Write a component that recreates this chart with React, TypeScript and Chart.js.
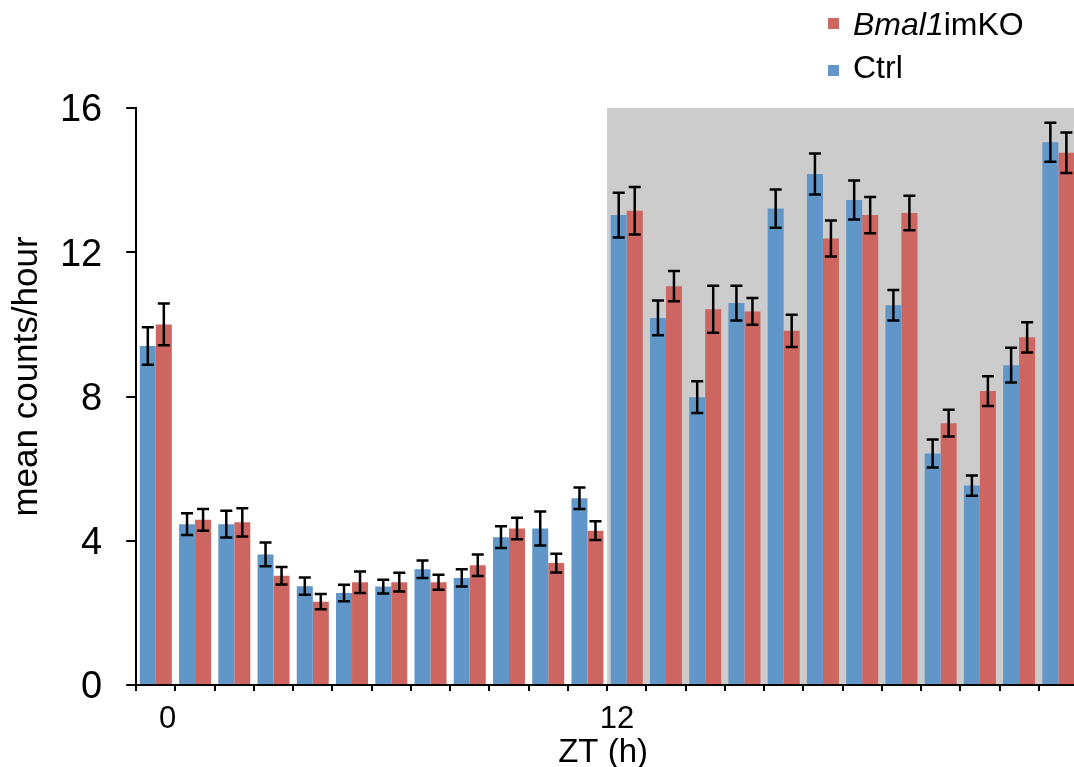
import React, { useEffect, useRef } from 'react';
import { Chart, registerables } from 'chart.js';

Chart.register(...registerables);

const FONT = "'Liberation Sans', Arial, Helvetica, sans-serif";

const hours = ['0', '1', '2', '3', '4', '5', '6', '7', '8', '9', '10', '11', '12', '13', '14', '15', '16', '17', '18', '19', '20', '21', '22', '23'];
const ctrlMean = [9.40, 4.46, 4.46, 3.62, 2.74, 2.55, 2.73, 3.21, 2.97, 4.10, 4.34, 5.18, 13.03, 10.18, 7.98, 10.59, 13.21, 14.17, 13.45, 10.53, 6.42, 5.53, 8.87, 15.05];
const ctrlErr = [0.52, 0.30, 0.37, 0.33, 0.24, 0.23, 0.19, 0.24, 0.24, 0.30, 0.47, 0.30, 0.62, 0.48, 0.44, 0.48, 0.53, 0.57, 0.54, 0.42, 0.39, 0.28, 0.48, 0.54];
const koMean = [10.00, 4.58, 4.51, 3.03, 2.31, 2.85, 2.85, 2.85, 3.32, 4.34, 3.38, 4.28, 13.15, 11.06, 10.42, 10.36, 9.82, 12.38, 13.03, 13.09, 7.26, 8.15, 9.64, 14.76];
const koErr = [0.58, 0.30, 0.39, 0.24, 0.21, 0.30, 0.26, 0.21, 0.30, 0.30, 0.26, 0.26, 0.66, 0.42, 0.65, 0.37, 0.45, 0.50, 0.50, 0.48, 0.37, 0.41, 0.42, 0.56];
const yTicks = [0, 4, 8, 12, 16];
const xShownLabels = ['0', '12'];
const darkStartHour = 12;

const BLUE = '#6196c9';
const RED = '#cd6660';
const GREY = '#cccccc';

const errorsByDataset = [ctrlErr, koErr];

const shadePlugin = {
  id: 'shade',
  beforeDraw(chart: any) {
    const { ctx, chartArea, scales } = chart;
    const x = scales.x, y = scales.y;
    const half = (x.getPixelForValue(1) - x.getPixelForValue(0)) / 2;
    const left = x.getPixelForValue(darkStartHour) - half;
    const top = y.getPixelForValue(yTicks[yTicks.length - 1]);
    const bottom = y.getPixelForValue(0) - 1;
    ctx.save();
    ctx.fillStyle = GREY;
    ctx.fillRect(left, top, chartArea.right - left + 20, bottom - top);
    ctx.restore();
  },
};

const errorBarPlugin = {
  id: 'errbars',
  afterDatasetsDraw(chart: any) {
    const { ctx, scales } = chart;
    const y = scales.y;
    ctx.save();
    ctx.strokeStyle = '#000';
    ctx.lineWidth = 2.5;
    chart.data.datasets.forEach((ds: any, di: number) => {
      const meta = chart.getDatasetMeta(di);
      const errs = errorsByDataset[di];
      meta.data.forEach((bar: any, i: number) => {
        const v = ds.data[i];
        const e = errs[i];
        const yt = y.getPixelForValue(v + e);
        const yb = y.getPixelForValue(v - e);
        const cx = bar.x;
        ctx.beginPath();
        ctx.moveTo(cx, yt);
        ctx.lineTo(cx, yb);
        ctx.moveTo(cx - 6, yt);
        ctx.lineTo(cx + 6, yt);
        ctx.moveTo(cx - 6, yb);
        ctx.lineTo(cx + 6, yb);
        ctx.stroke();
      });
    });
    ctx.restore();
  },
};

const textPlugin = {
  id: 'texts',
  afterDraw(chart: any) {
    const { ctx, chartArea, scales } = chart;
    const x = scales.x;
    const half = (x.getPixelForValue(1) - x.getPixelForValue(0)) / 2;
    ctx.save();
    ctx.fillStyle = '#000';
    ctx.textAlign = 'center';
    ctx.textBaseline = 'alphabetic';
    // x tick labels
    ctx.font = `31px ${FONT}`;
    ctx.fillText(xShownLabels[0], x.getPixelForValue(0) + half / 2 + 2, chartArea.bottom + 43);
    ctx.fillText(xShownLabels[1], x.getPixelForValue(12) - half / 2, chartArea.bottom + 43);
    // x title
    ctx.font = `33px ${FONT}`;
    ctx.fillText('ZT (h)', (chartArea.left + chartArea.right) / 2 - 4, chartArea.bottom + 77);
    // y title
    ctx.translate(37, (chartArea.top + chartArea.bottom) / 2 - 20);
    ctx.rotate(-Math.PI / 2);
    ctx.font = `35px ${FONT}`;
    ctx.fillText('mean counts/hour', 0, 0);
    ctx.restore();
  },
};

export default function App() {
  const ref = useRef<HTMLCanvasElement | null>(null);

  useEffect(() => {
    if (!ref.current) return;
    const chart = new Chart(ref.current, {
      type: 'bar',
      data: {
        labels: hours,
        datasets: [
          { label: 'Ctrl', data: ctrlMean, backgroundColor: BLUE, borderWidth: 0 },
          { label: 'Bmal1imKO', data: koMean, backgroundColor: RED, borderWidth: 0 },
        ],
      },
      options: {
        responsive: false,
        animation: false,
        devicePixelRatio: 1,
        layout: { padding: { left: 0, right: 2, top: 108, bottom: 0 } },
        datasets: { bar: { categoryPercentage: 0.816, barPercentage: 1.0 } },
        plugins: { legend: { display: false }, tooltip: { enabled: false }, title: { display: false } },
        scales: {
          x: {
            type: 'category',
            offset: true,
            border: { display: true, color: '#000', width: 2 },
            grid: { display: true, offset: true, drawOnChartArea: false, drawTicks: true, tickLength: 6, color: '#000', lineWidth: 2 },
            ticks: { display: false },
            afterFit: (scale: any) => { scale.height = 82; },
          },
          y: {
            min: 0,
            max: 16,
            border: { display: true, color: '#000', width: 2 },
            grid: { display: true, drawOnChartArea: false, drawTicks: true, tickLength: 10, color: '#000', lineWidth: 2 },
            ticks: {
              stepSize: 4,
              color: '#000',
              padding: 24,
              labelOffset: 3,
              font: { family: FONT, size: 38 },
              callback: (v: any) => (yTicks.includes(Number(v)) ? String(v) : ''),
            },
            afterFit: (scale: any) => { scale.width = 136.2; },
          },
        },
      },
      plugins: [shadePlugin, errorBarPlugin, textPlugin],
    });
    return () => chart.destroy();
  }, []);

  const legendText: React.CSSProperties = {
    position: 'absolute',
    left: 853,
    fontFamily: FONT,
    fontSize: 32,
    lineHeight: '32px',
    whiteSpace: 'nowrap',
    color: '#000',
  };

  return (
    <div style={{ position: 'fixed', left: 0, top: 0, width: 1074, height: 767, overflow: 'hidden', background: '#fff' }}>
      <canvas ref={ref} width={1080} height={767} style={{ display: 'block', width: 1080, height: 767 }} />
      <div style={{ position: 'absolute', left: 828, top: 18, width: 11, height: 11, background: RED }} />
      <div style={{ ...legendText, top: 8 }}><i>Bmal1</i>imKO</div>
      <div style={{ position: 'absolute', left: 828, top: 65, width: 11, height: 11, background: BLUE }} />
      <div style={{ ...legendText, top: 51 }}>Ctrl</div>
    </div>
  );
}
